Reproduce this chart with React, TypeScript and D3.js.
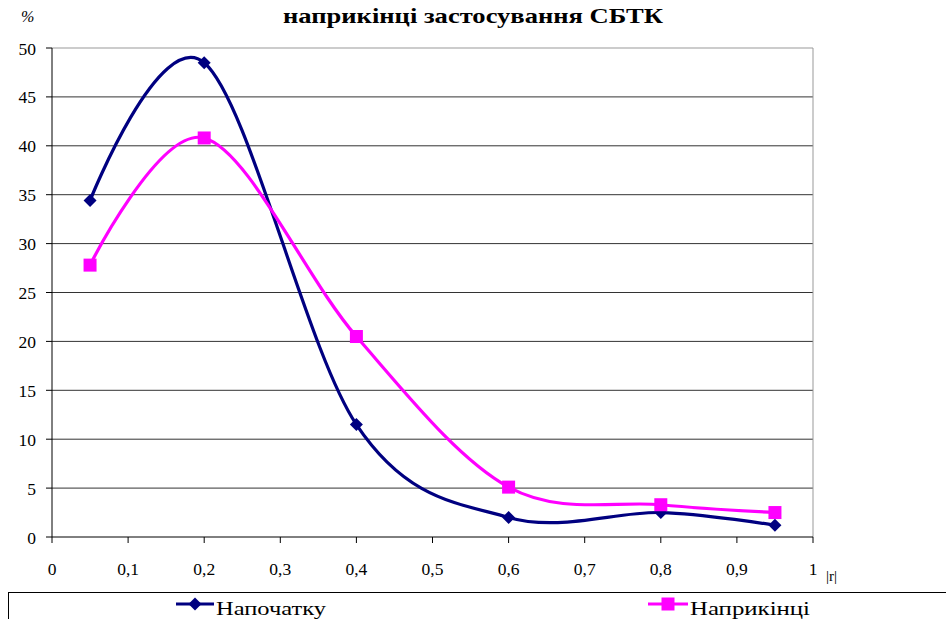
import React from "react";
import * as d3 from "d3";

const xValues = [0.05, 0.2, 0.4, 0.6, 0.8, 0.95];
const startValues = [34.4, 48.5, 11.5, 2.0, 2.5, 1.2];
const endValues = [27.8, 40.8, 20.5, 5.1, 3.3, 2.5];
const xTicks = [0, 0.1, 0.2, 0.3, 0.4, 0.5, 0.6, 0.7, 0.8, 0.9, 1];
const yTicks = [0, 5, 10, 15, 20, 25, 30, 35, 40, 45, 50];
const seriesNames = ["Напочатку", "Наприкінці"];
const title = "наприкінці застосування СБТК";

const W = 946;
const H = 619;
const plot = { left: 52, right: 813, top: 48, bottom: 537 };
const FAMILY = "Liberation Serif";
const NAVY = "#000080";
const MAGENTA = "#FF00FF";

export default function App() {
  const x = d3.scaleLinear().domain([0, 1]).range([plot.left, plot.right]);
  const y = d3.scaleLinear().domain([0, 50]).range([plot.bottom, plot.top]);
  const line = d3
    .line<number>()
    .x((_, i) => x(xValues[i]))
    .y((d) => y(d))
    .curve(d3.curveCardinal.tension(0));

  const fmt = (v: number) => String(v).replace(".", ",");

  const diamond = (cx: number, cy: number, r: number) =>
    `M${cx},${cy - r}L${cx + r},${cy}L${cx},${cy + r}L${cx - r},${cy}Z`;

  return (
    <svg
      width={W}
      height={H}
      style={{ position: "absolute", left: 0, top: 0, background: "#fff" }}
    >
      <style>{`svg text, .lbl { font-family: "Liberation Serif", serif !important; }`}</style>
      <rect x={0} y={0} width={W} height={H} fill="#fff" />

      {/* horizontal gridlines */}
      {yTicks
        .filter((t) => t > 0)
        .map((t) => (
          <line
            key={"g" + t}
            x1={plot.left}
            x2={plot.right}
            y1={y(t)}
            y2={y(t)}
            stroke={t === 50 ? "#999" : "#333"}
            strokeWidth={1}
          />
        ))}
      {/* right border */}
      <line
        x1={plot.right}
        x2={plot.right}
        y1={plot.top}
        y2={plot.bottom}
        stroke="#999"
      />

      {/* axes */}
      <line x1={plot.left} x2={plot.left} y1={plot.top} y2={plot.bottom} stroke="#000" />
      <line x1={plot.left} x2={plot.right} y1={plot.bottom} y2={plot.bottom} stroke="#000" />
      {yTicks.map((t) => (
        <line key={"yt" + t} x1={plot.left - 6} x2={plot.left} y1={y(t)} y2={y(t)} stroke="#000" />
      ))}
      {xTicks.map((t) => (
        <line key={"xt" + t} x1={x(t)} x2={x(t)} y1={plot.bottom} y2={plot.bottom + 6} stroke="#000" />
      ))}

      {/* series */}
      <path d={line(startValues) ?? ""} fill="none" stroke={NAVY} strokeWidth={3.2} />
      <path d={line(endValues) ?? ""} fill="none" stroke={MAGENTA} strokeWidth={3.2} />
      {startValues.map((v, i) => (
        <path key={"d" + i} d={diamond(x(xValues[i]), y(v), 6.5)} fill={NAVY} />
      ))}
      {endValues.map((v, i) => (
        <rect
          key={"s" + i}
          x={x(xValues[i]) - 6.5}
          y={y(v) - 6.5}
          width={13}
          height={13}
          fill={MAGENTA}
        />
      ))}

      {/* legend */}
      <rect x={8.5} y={592.5} width={960} height={40} fill="none" stroke="#000" />
      <line x1={176} x2={214} y1={604} y2={604} stroke={NAVY} strokeWidth={3.2} />
      <path d={diamond(195, 604, 6.5)} fill={NAVY} />
      <line x1={648} x2={688} y1={604} y2={604} stroke={MAGENTA} strokeWidth={3.2} />
      <rect x={661.5} y={597.5} width={13} height={13} fill={MAGENTA} />

      {/* all text */}
      <g style={{ fontFamily: FAMILY }} fill="#000">
        <text
          className="lbl"
          fontFamily={FAMILY}
          x={473}
          y={23}
          textAnchor="middle"
          fontWeight="bold"
          fontSize={22}
          textLength={380}
          lengthAdjust="spacingAndGlyphs"
        >
          {title}
        </text>
        <text className="lbl" fontFamily={FAMILY} x={21} y={22} fontStyle="italic" fontSize={16}>
          %
        </text>
        {yTicks.map((t) => (
          <text
            key={"yl" + t}
            className="lbl"
            fontFamily={FAMILY}
            x={36}
            y={y(t) + 6.5}
            textAnchor="end"
            fontSize={17.5}
          >
            {t}
          </text>
        ))}
        {xTicks.map((t) => (
          <text
            key={"xl" + t}
            className="lbl"
            fontFamily={FAMILY}
            x={x(t)}
            y={575}
            textAnchor="middle"
            fontSize={17.5}
          >
            {fmt(t)}
          </text>
        ))}
        <text className="lbl" fontFamily={FAMILY} x={826} y={581} fontSize={15}>
          |r|
        </text>
        <text
          className="lbl"
          fontFamily={FAMILY}
          x={216}
          y={615}
          fontSize={19}
          textLength={110}
          lengthAdjust="spacingAndGlyphs"
        >
          {seriesNames[0]}
        </text>
        <text
          className="lbl"
          fontFamily={FAMILY}
          x={690}
          y={615}
          fontSize={19}
          textLength={120}
          lengthAdjust="spacingAndGlyphs"
        >
          {seriesNames[1]}
        </text>
      </g>
    </svg>
  );
}
